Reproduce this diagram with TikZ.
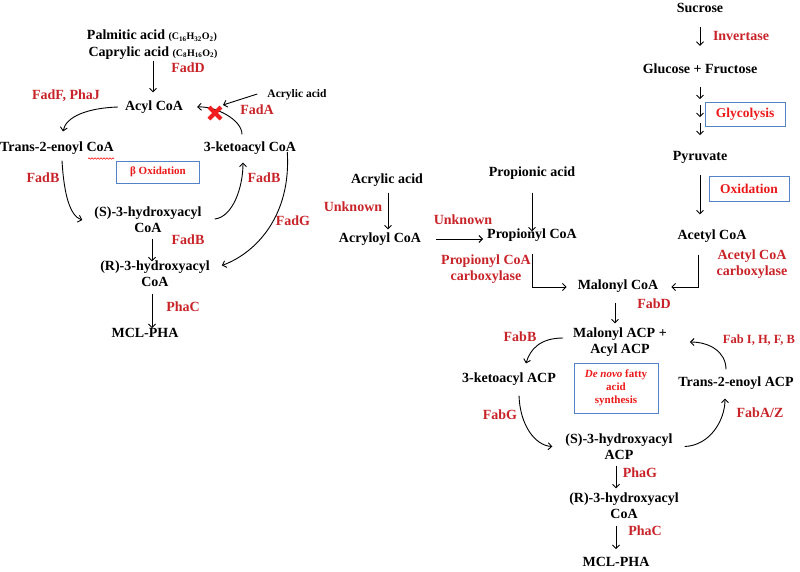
\documentclass[tikz,border=0pt]{standalone}
\usepackage{fontspec}
\setmainfont{Liberation Serif}
\usetikzlibrary{arrows.meta,calc,decorations.pathmorphing}
\definecolor{labred}{RGB}{200,35,40}
\definecolor{boxred}{RGB}{235,25,25}
\definecolor{boxblue}{RGB}{84,130,198}
\definecolor{xred}{RGB}{240,30,30}
\begin{document}
\begin{tikzpicture}[x=1pt,y=-1pt,
  txt/.style={font=\fontsize{14}{16}\selectfont\bfseries, inner sep=1pt, align=center},
  smalltxt/.style={font=\fontsize{11.5}{13}\selectfont\bfseries, inner sep=1pt},
  lab/.style={txt, text=labred},
  pbox/.style={draw=boxblue, line width=0.8pt, text=boxred, font=\fontsize{13.5}{15}\selectfont\bfseries, inner sep=0pt, align=center},
  arr/.style={line width=0.9pt, -{Straight Barb[length=3.5pt,width=7pt]}},
  ]
\useasboundingbox (0,0) rectangle (800,571);

% ---------------- left: beta oxidation ----------------
\node[txt] (palm) at (152,36) {Palmitic acid {\fontsize{10}{12}\selectfont (C\textsubscript{16}H\textsubscript{32}O\textsubscript{2})}};
\node[txt] (capr) at (153,53) {Caprylic acid {\fontsize{10}{12}\selectfont (C\textsubscript{8}H\textsubscript{16}O\textsubscript{2})}};
\node[lab] (fadD) at (188,68) {FadD};
\node[txt] (acyl) at (154,107) {Acyl CoA};
\node[lab] (fadFJ) at (66,96) {FadF, PhaJ};
\node[smalltxt] (acry1) at (297,95) {Acrylic acid};
\node[lab] (fadA) at (257,110) {FadA};
\coordinate (xmark) at (215,113);
\node[txt] (trans) at (57,148) {Trans-2-enoyl CoA};
\node[txt] (keto) at (250,148) {3-ketoacyl CoA};
\node[pbox, minimum width=83pt, minimum height=22pt, font=\fontsize{11}{13}\selectfont\bfseries] (beta) at (158,172) {β Oxidation};
\node[lab] (fadB1) at (43,178) {FadB};
\node[lab] (fadB2) at (264,178) {FadB};
\node[txt] (shyd) at (148,220) {(S)-3-hydroxyacyl\\CoA};
\node[lab] (fadB3) at (188,240) {FadB};
\node[lab] (fadG) at (293,221) {FadG};
\node[txt] (rhyd) at (155,273.5) {(R)-3-hydroxyacyl\\CoA};
\node[lab] (phaC1) at (183,307) {PhaC};
\node[txt] (mcl1) at (145,333) {MCL-PHA};

\draw[arr, shorten >=7pt] (capr.south) -- (capr.south |- acyl.north);
\draw[arr] ($(acyl.west)+(-6,0)$) .. controls +(-30,1) and +(3,-15) .. ($(trans.north)+(6,-9)$);
\draw[arr] ($(keto.north)+(-8,-6)$) .. controls +(0,-15) and +(18,-1) .. ($(acyl.east)+(13,0)$);
\draw[arr] ($(acry1.west)+(-9,-1)$) -- ($(xmark)+(8,-8)$);
\draw[xred, line width=4pt] ($(xmark)+(-6,-6)$) -- ($(xmark)+(6,6)$) ($(xmark)+(-6,6)$) -- ($(xmark)+(6,-6)$);
\draw[arr] ($(trans.south)+(5,5)$) .. controls +(2,35) and +(-12,-4) .. ($(shyd.west)+(-11,0)$);
\draw[arr] ($(shyd.east)+(12,-1)$) .. controls +(18,-2) and +(0,25) .. ($(keto.south)+(-7,7)$);
\draw[arr] ($(keto.east)+(-10,4)$) .. controls +(4,63) and +(35,-13) .. ($(rhyd.east)+(11,-8)$);
\draw[arr] ($(shyd.south)+(4,5)$) -- ($(rhyd.north)+(-3,2)$);
\draw[arr] ($(rhyd.south)+(-3,6)$) -- ($(mcl1.north)+(7,1)$);
\draw[red, line width=0.5pt, decorate, decoration={snake, amplitude=0.8pt, segment length=3pt}]
  ($(trans.south east)+(-27,3)$) -- ($(trans.south east)+(-1,3)$);

% ---------------- middle ----------------
\node[txt] (acry2) at (387,180) {Acrylic acid};
\node[lab] (unk1) at (353,207) {Unknown};
\node[txt] (acryl) at (380,239) {Acryloyl CoA};
\node[lab] (unk2) at (463,220) {Unknown};
\node[txt] (propac) at (532,173) {Propionic acid};
\node[txt] (propCoA) at (532,235) {Propionyl CoA};
\node[lab] (pcc) at (486,269.5) {Propionyl CoA\\carboxylase};
\node[txt] (malCoA) at (618,286) {Malonyl CoA};

\draw[arr] ($(acry2.south)+(1,5)$) -- ($(acryl.north)+(8,-2)$);
\draw[arr] ($(acryl.east)+(14,0)$) -- ($(acryl.east -| propCoA.west)+(-3,0)$);
\draw[arr] ($(propac.south)+(0,12)$) -- ($(propCoA.north)+(0,4)$);
\draw[arr] ($(propCoA.south)+(0,11)$) |- ($(malCoA.west)+(-10,1)$);

% ---------------- right ----------------
\node[txt] (sucrose) at (700,8) {Sucrose};
\node[lab] (invert) at (741,36) {Invertase};
\node[txt] (glufru) at (700,69) {Glucose + Fructose};
\node[pbox, minimum width=80pt, minimum height=24pt] (glyc) at (745,114) {Glycolysis};
\node[txt] (pyr) at (700,157) {Pyruvate};
\node[pbox, minimum width=80pt, minimum height=25pt] (oxid) at (749,189) {Oxidation};
\node[txt] (acetyl) at (712,236) {Acetyl CoA};
\node[lab] (acc) at (752,264.5) {Acetyl CoA\\carboxylase};

\draw[arr] ($(sucrose.south)+(0,13)$) -- ($(glufru.north)+(0,-17)$);
\draw[arr] ($(glufru.south)+(0,12)$) -- +(0,12);
\draw[arr] ($(glufru.south)+(0,30)$) -- +(0,12);
\draw[arr] ($(glufru.south)+(0,48)$) -- +(0,12);
\draw[arr] ($(pyr.south)+(0,11)$) -- ($(acetyl.north -| pyr.south)+(0,-14)$);
\draw[arr] ($(acetyl.south)+(-14,11)$) |- ($(malCoA.east)+(12,1)$);

% ---------------- de novo fatty acid synthesis ----------------
\node[lab] (fabD) at (654,304) {FabD};
\node[txt] (malACP) at (620,342) {Malonyl ACP +\\Acyl ACP};
\node[lab] (fabB) at (520,337) {FabB};
\node[txt] (kacp) at (509,379) {3-ketoacyl ACP};
\node[pbox, minimum width=84pt, minimum height=50pt, font=\fontsize{11}{13}\selectfont\bfseries] (denovo) at (616,388) {{\itshape De novo} fatty\\acid\\synthesis};
\node[txt] (tacp) at (736,383) {Trans-2-enoyl ACP};
\node[lab, font=\fontsize{12.5}{14}\selectfont\bfseries] (fabI) at (759,340) {Fab I, H, F, B};
\node[lab] (fabG) at (500,415) {FabG};
\node[lab] (fabAZ) at (760,413) {FabA/Z};
\node[txt] (sacp) at (619,446.5) {(S)-3-hydroxyacyl\\ACP};
\node[lab] (phaG) at (640,473) {PhaG};
\node[txt] (racp) at (624,505.5) {(R)-3-hydroxyacyl\\CoA};
\node[lab] (phaC2) at (645,531) {PhaC};
\node[txt] (mcl2) at (616,562) {MCL-PHA};

\draw[arr] ($(malCoA.south)+(-3,9)$) -- ($(malACP.north)+(-5,-3)$);
\draw[arr] ($(malACP.west)+(-9,-4)$) .. controls +(-23,0) and +(4,-14) .. ($(kacp.north)+(17,-8)$);
\draw[arr] ($(kacp.south)+(10,9)$) .. controls +(1,30) and +(-17,-1) .. ($(sacp.west)+(-12,0)$);
\draw[arr] ($(sacp.east)+(11,0)$) .. controls +(25,-1) and +(0,22) .. ($(tacp.south)+(-11,8)$);
\draw[arr] ($(tacp.north)+(-10,-6)$) .. controls +(0,-18) and +(19,0) .. ($(malACP.east)+(22,0)$);
\draw[arr] ($(sacp.south)+(-3,5)$) -- ($(racp.north)+(-8,-3)$);
\draw[arr] ($(racp.south)+(-8,6)$) -- ($(mcl2.north)+(0,-7)$);
\end{tikzpicture}
\end{document}
